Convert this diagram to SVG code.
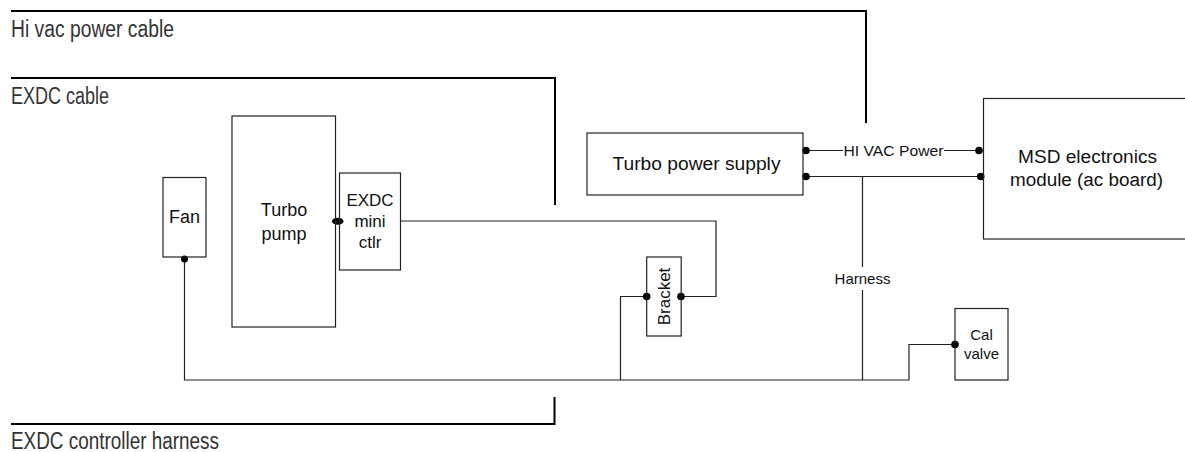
<svg xmlns="http://www.w3.org/2000/svg" width="1185" height="452" viewBox="0 0 1185 452">
<style>
.box{fill:none;stroke:#222;stroke-width:1.2}
.wire{fill:none;stroke:#222;stroke-width:1.2}
.bar{fill:none;stroke:#000;stroke-width:2}
.dot{fill:#000}
text{font-family:"Liberation Sans",Arial,sans-serif;fill:#111}
.lbl{font-size:18px;text-anchor:middle}
.sm{font-size:17px;text-anchor:middle}
.xs{font-size:15px;text-anchor:middle}
.cap{font-size:23px;fill:#333}
</style>
<rect width="1185" height="452" fill="#fff"/>
<g id="connectors">
<path class="bar" d="M11 11H866V123"/>
<path class="bar" d="M11 78H555V205"/>
<path class="bar" d="M11 424H554.500V397"/>
<path class="wire" d="M400.500 221H716V296.500H681"/>
<path class="wire" d="M184.500 258V380H909V344.500H955"/>
<path class="wire" d="M646.500 296.500H620.500V380"/>
<path class="wire" d="M862.500 176.500V267M862.500 290V380"/>
<path class="wire" d="M804 150.500H843M944 150.500H983"/>
<path class="wire" d="M804 176.500H983"/>
</g>
<g id="junctions">
<circle class="dot" cx="184.500" cy="259" r="3.500"/>
<ellipse class="dot" cx="337.700" cy="221.300" rx="5.800" ry="3.500"/>
<circle class="dot" cx="646.700" cy="296.500" r="3.800"/>
<circle class="dot" cx="681" cy="296.500" r="3.800"/>
<circle class="dot" cx="955" cy="344.500" r="3.800"/>
<circle class="dot" cx="806" cy="150.500" r="3.800"/>
<circle class="dot" cx="806" cy="176.500" r="3.800"/>
<circle class="dot" cx="979" cy="150.500" r="3.800"/>
<circle class="dot" cx="980.700" cy="176.500" r="3.800"/>
</g>
<g id="fan"><rect class="box" x="163" y="177.500" width="43" height="79.500"/><text class="lbl" x="184.500" y="222.500">Fan</text></g>
<g id="turbo-pump"><rect class="box" x="232" y="116" width="103.500" height="211"/><text class="lbl" x="284" y="216">Turbo</text><text class="lbl" x="284" y="240">pump</text></g>
<g id="exdc-ctlr"><rect class="box" x="339.500" y="173" width="61" height="97"/><text class="sm" x="370" y="206">EXDC</text><text class="sm" x="370" y="227">mini</text><text class="sm" x="370" y="248">ctlr</text></g>
<g id="power-supply"><rect class="box" x="587" y="133" width="216" height="62"/><text class="lbl" x="696.500" y="170" textLength="168" lengthAdjust="spacingAndGlyphs">Turbo power supply</text></g>
<g id="msd-module"><rect class="box" x="983.500" y="98.500" width="203" height="140.500"/><text class="lbl" x="1087.500" y="162.500" textLength="139" lengthAdjust="spacingAndGlyphs">MSD electronics</text><text class="lbl" x="1086.500" y="186" textLength="153" lengthAdjust="spacingAndGlyphs">module (ac board)</text></g>
<g id="bracket"><rect class="box" x="646.700" y="257" width="34.500" height="79"/><text class="sm" transform="translate(670 296.500) rotate(-90)">Bracket</text></g>
<g id="cal-valve"><rect class="box" x="955" y="308.500" width="53" height="71.500"/><text class="xs" x="981.500" y="340">Cal</text><text class="xs" x="981.500" y="359">valve</text></g>
<text class="xs" x="893.500" y="155.500" textLength="100" lengthAdjust="spacingAndGlyphs">HI VAC Power</text>
<text class="xs" x="862.500" y="284">Harness</text>
<text class="cap" x="11" y="37" textLength="163" lengthAdjust="spacingAndGlyphs">Hi vac power cable</text>
<text class="cap" x="11" y="104" textLength="98" lengthAdjust="spacingAndGlyphs">EXDC cable</text>
<text class="cap" x="11" y="448.500" textLength="208" lengthAdjust="spacingAndGlyphs">EXDC controller harness</text>
</svg>
